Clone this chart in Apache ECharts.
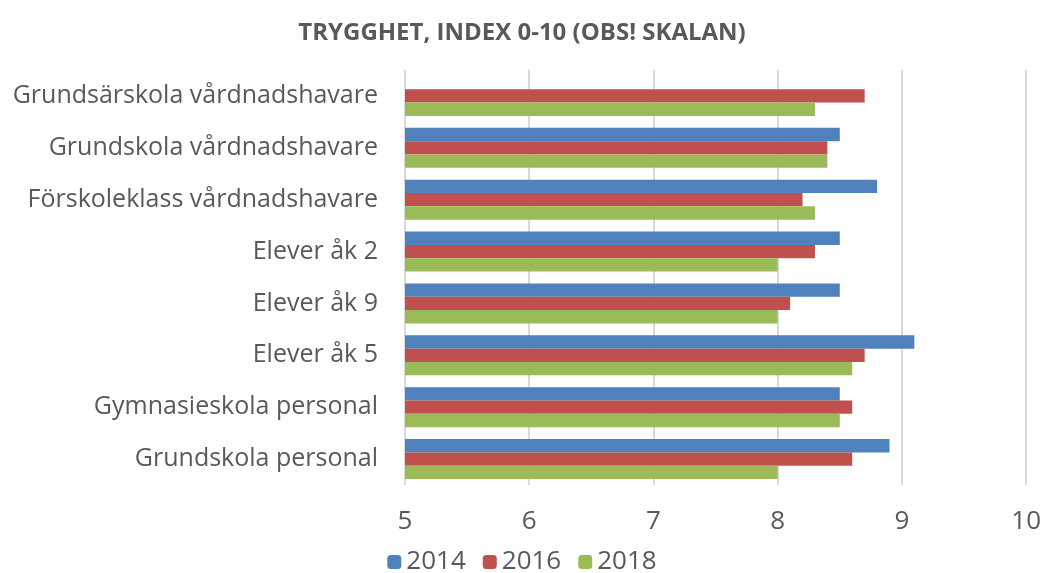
<!DOCTYPE html>
<html>
<head>
<meta charset="utf-8">
<script src="https://cdn.jsdelivr.net/npm/echarts@6/dist/echarts.min.js"></script>
<style>
body { margin: 0; padding: 0; background: #fff; }
#chart { width: 1044px; height: 573px; }
</style>
</head>
<body>
<div id="chart"></div>
<script>
// kategorier nerifrån och upp (som i Excel)
const categories = [
  "Grundskola personal",
  "Gymnasieskola personal",
  "Elever åk 5",
  "Elever åk 9",
  "Elever åk 2",
  "Förskoleklass vårdnadshavare",
  "Grundskola vårdnadshavare",
  "Grundsärskola vårdnadshavare",
];
const years = ["2014", "2016", "2018"];
const values2014 = [8.9, 8.5, 9.1, 8.5, 8.5, 8.8, 8.5, null];
const values2016 = [8.6, 8.6, 8.7, 8.1, 8.3, 8.2, 8.4, 8.7];
const values2018 = [8.0, 8.5, 8.6, 8.0, 8.0, 8.3, 8.4, 8.3];
const colors = ["#4F81BD", "#C0504D", "#9BBB59"];

const font = "'Open Sans', sans-serif";
const allValues = [values2014, values2016, values2018];

let option = {
  animation: false,
  title: {
    text: "TRYGGHET, INDEX 0-10 (OBS! SKALAN)",
    left: "center",
    top: 16,
    textStyle: {
      fontFamily: font,
      fontSize: 24,
      fontWeight: "bold",
      color: "#595959",
    },
  },
  legend: {
    top: 549,
    left: "center",
    padding: 0,
    itemWidth: 14,
    itemHeight: 14,
    itemGap: 17,
    textStyle: { fontFamily: font, fontSize: 26, color: "#595959" },
    data: years,
  },
  grid: {
    left: 405,
    right: 15,
    top: 70,
    bottom: 88,
  },
  xAxis: {
    type: "value",
    min: 5,
    max: 10,
    interval: 1,
    axisLine: { show: false },
    axisTick: { show: false },
    axisLabel: {
      fontFamily: font,
      fontSize: 26,
      color: "#595959",
      margin: 24,
    },
    splitLine: { lineStyle: { color: "#d9d9d9", width: 2 } },
  },
  yAxis: {
    type: "category",
    data: categories,
    axisLine: { show: false },
    axisTick: { show: false },
    axisLabel: {
      fontFamily: font,
      fontSize: 25,
      color: "#595959",
      margin: 27,
    },
  },
  series: [],
};

years.forEach((y, i) => {
  option.series.push({
    name: y,
    type: "bar",
    data: allValues[i],
    itemStyle: { color: colors[i] },
    barGap: "0%",
    barCategoryGap: "23%",
  });
});

let chart = echarts.init(document.getElementById("chart"));
chart.setOption(option);
</script>
</body>
</html>
